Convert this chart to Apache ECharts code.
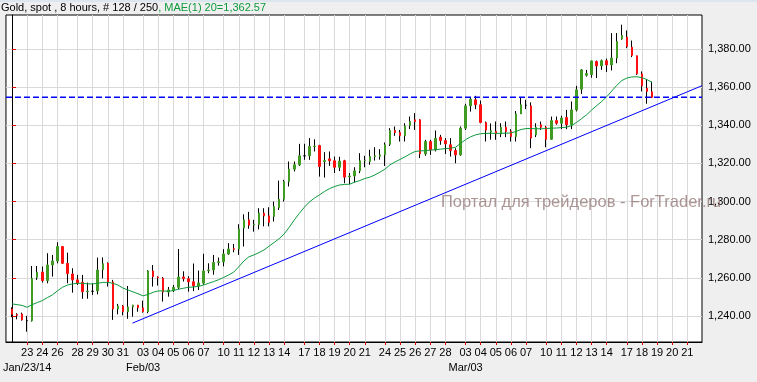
<!DOCTYPE html>
<html><head><meta charset="utf-8">
<script src="https://cdn.jsdelivr.net/npm/echarts@6/dist/echarts.min.js"></script>
<style>html,body{margin:0;padding:0;background:#efefef}#c{width:757px;height:382px}</style>
</head><body><div id="c"></div>
<script>
// 8-hour Gold bars, index 0 = Jan 22 00:00
const opens = [1243.6,1240.8,1241.0,1237.5,1237.5,1260.1,1263.0,1258.5,1266.7,1268.8,
 1276.4,1267.6,1262.0,1258.9,1257.6,1252.7,1252.9,1253.1,1264.3,1267.6,
 1257.8,1243.6,1245.2,1242.2,1244.7,1245.6,1244.2,1242.2,1263.6,1260.4,
 1259.8,1252.5,1253.3,1255.0,1260.4,1259.5,1257.9,1255.8,1257.2,1263.7,
 1264.1,1268.0,1268.4,1272.5,1275.3,1275.1,1286.1,1290.4,1287.7,1287.9,
 1293.9,1292.5,1292.2,1296.8,1301.2,1310.5,1317.0,1319.3,1324.0,1324.0,
 1328.9,1329.4,1321.0,1322.4,1321.4,1318.0,1321.4,1313.0,1313.4,1316.1,
 1321.4,1321.0,1323.6,1323.8,1324.5,1330.1,1337.3,1336.2,1334.6,1339.9,
 1342.9,1342.9,1325.0,1331.5,1327.1,1333.8,1332.0,1329.8,1326.8,1324.5,
 1338.5,1350.2,1353.4,1350.8,1341.5,1336.5,1336.8,1335.5,1339.0,1336.8,
 1334.1,1346.0,1350.5,1350.2,1335.0,1340.3,1339.0,1332.7,1342.5,1341.1,
 1344.1,1340.3,1348.1,1359.0,1366.3,1366.6,1373.5,1371.2,1373.9,1371.7,
 1375.3,1385.4,1386.3,1381.0,1376.5,1367.0,1359.5,1357.6];
const closes = [1240.8,1240.3,1237.9,1237.5,1259.7,1262.9,1258.5,1266.7,1268.8,1276.4,
 1267.6,1262.2,1258.9,1257.1,1252.7,1253.0,1252.9,1264.1,1267.4,1257.8,
 1243.6,1245.2,1242.2,1244.7,1245.6,1244.3,1242.2,1263.6,1260.6,1260.0,
 1252.5,1253.6,1255.0,1260.4,1259.5,1257.9,1255.8,1257.3,1263.6,1264.1,
 1268.0,1268.4,1272.5,1275.1,1274.9,1285.6,1290.4,1287.6,1287.9,1294.0,
 1292.5,1289.0,1297.4,1301.2,1310.5,1317.0,1319.3,1324.0,1324.0,1328.9,
 1329.1,1318.4,1321.5,1321.4,1318.0,1321.2,1312.8,1313.4,1316.1,1321.4,
 1321.6,1323.6,1324.0,1324.5,1329.8,1337.3,1336.2,1334.6,1339.7,1342.0,
 1342.0,1325.0,1331.5,1327.1,1333.2,1332.0,1330.3,1326.8,1324.5,1338.5,
 1350.2,1353.7,1350.8,1341.5,1337.5,1337.2,1335.5,1339.0,1336.8,1334.1,
 1346.0,1350.8,1350.5,1333.3,1339.0,1339.0,1332.7,1342.5,1341.1,1343.8,
 1340.3,1348.1,1358.6,1369.1,1367.2,1373.8,1371.2,1373.9,1371.7,1375.3,
 1384.0,1387.1,1381.4,1376.7,1367.0,1360.7,1357.8,1354.68];
const lows = [1239.3,1238.2,1237.5,1231.7,1237.0,1258.9,1257.5,1257.1,1260.6,1267.6,
 1267.2,1257.1,1252.2,1256.2,1249.0,1249.0,1251.0,1251.3,1259.7,1255.4,
 1237.9,1240.8,1240.3,1238.5,1239.6,1242.2,1241.7,1241.4,1255.4,1255.9,
 1247.5,1250.1,1252.5,1254.0,1258.0,1252.7,1253.0,1253.6,1256.4,1262.4,
 1261.6,1266.4,1266.0,1272.0,1273.4,1272.0,1276.4,1285.7,1284.2,1285.4,
 1287.0,1287.0,1289.5,1295.6,1300.0,1307.9,1315.8,1318.7,1321.9,1321.9,
 1326.3,1313.1,1312.6,1318.7,1315.0,1316.0,1309.6,1309.1,1310.0,1314.9,
 1318.0,1319.3,1321.5,1322.0,1318.7,1329.2,1334.5,1331.5,1331.5,1338.0,
 1337.6,1322.8,1324.0,1324.5,1326.3,1329.8,1325.0,1323.6,1320.1,1324.0,
 1337.6,1347.2,1348.5,1341.1,1331.5,1332.5,1332.4,1333.8,1333.8,1331.5,
 1331.5,1346.0,1348.5,1328.0,1333.8,1337.6,1328.5,1332.4,1340.3,1338.0,
 1338.0,1338.0,1347.3,1356.5,1365.6,1365.0,1364.8,1369.1,1368.0,1368.8,
 1372.6,1384.9,1380.5,1375.8,1366.5,1357.8,1351.3,1354.3];
const highs = [1244.5,1241.4,1241.7,1240.0,1266.2,1266.2,1265.9,1272.9,1272.0,1278.6,
 1276.7,1273.2,1265.0,1261.5,1261.5,1257.5,1257.1,1270.6,1270.7,1268.1,
 1258.9,1246.3,1245.7,1255.7,1245.8,1245.8,1248.0,1264.0,1266.7,1260.8,
 1260.4,1255.2,1256.2,1275.1,1263.4,1260.8,1267.5,1263.8,1272.6,1267.6,
 1272.0,1270.6,1275.0,1278.2,1277.8,1288.1,1293.3,1294.6,1290.4,1296.5,
 1296.5,1297.0,1300.0,1311.0,1311.4,1321.0,1321.0,1330.3,1330.3,1333.3,
 1332.7,1329.8,1325.9,1326.3,1323.6,1323.5,1321.9,1315.0,1318.0,1325.4,
 1324.0,1327.2,1328.5,1327.5,1331.0,1338.5,1339.4,1337.6,1341.1,1344.6,
 1346.4,1343.2,1332.4,1332.4,1337.3,1335.0,1333.3,1333.3,1328.0,1339.4,
 1351.3,1354.8,1355.5,1353.0,1342.0,1341.0,1342.0,1341.1,1342.0,1338.0,
 1347.5,1354.8,1353.4,1352.0,1341.1,1342.0,1339.7,1344.6,1344.6,1345.0,
 1348.1,1352.5,1360.7,1369.5,1369.1,1373.9,1374.0,1374.5,1375.0,1388.4,
 1388.4,1392.8,1389.8,1384.5,1376.5,1368.3,1364.2,1363.0];
// MAE(1) 20 line
const ma20 = [1246.3,1245.9,1245.5,1244.5,1245.9,1247.0,1248.0,1249.6,1251.0,1253.1,
 1255.0,1256.2,1256.8,1257.1,1257.1,1256.8,1256.8,1257.1,1257.6,1257.6,
 1257.1,1256.2,1254.6,1253.6,1252.6,1251.6,1250.5,1251.3,1252.4,1253.1,
 1253.1,1252.9,1253.3,1254.0,1254.5,1255.0,1255.2,1255.5,1256.2,1257.1,
 1258.0,1259.0,1260.2,1261.5,1263.0,1265.8,1268.8,1271.0,1272.0,1273.2,
 1274.6,1276.6,1278.5,1280.5,1283.0,1286.5,1290.3,1293.8,1297.0,1299.8,
 1301.8,1303.5,1305.3,1306.8,1307.9,1308.7,1309.0,1309.1,1310.2,1311.0,
 1312.1,1312.8,1314.0,1315.4,1317.0,1319.3,1320.8,1322.1,1323.5,1325.0,
 1326.3,1326.6,1326.7,1327.0,1327.2,1327.5,1327.8,1328.0,1328.5,1330.5,
 1332.5,1334.0,1335.0,1335.6,1335.8,1335.8,1335.8,1335.8,1335.9,1336.0,
 1336.8,1337.8,1338.3,1338.3,1338.2,1338.2,1338.3,1338.5,1338.6,1338.8,
 1339.0,1339.8,1341.5,1343.5,1345.5,1348.0,1350.3,1352.5,1355.0,1358.0,
 1361.0,1363.5,1364.8,1365.4,1365.5,1365.0,1364.0,1362.57];
// day starts (bar index) and their labels
const tickIdx = [3,6,9,13,16,19,22,26,29,32,35,38,42,45,48,51,54,58,61,64,67,70,74,77,80,83,86,90,93,96,99,102,106,109,112,115,118,122,125,128,131,134];
const tickDay = ['23','24','26','28','29','30','31','03','04','05','06','07','10','11','12','13','14','17','18','19','20','21','24','25','26','27','28','03','04','05','06','07','10','11','12','13','14','17','18','19','20','21'];
const monthIdx = [3, 26, 90];
const monthText = ['Jan/23/14', 'Feb/03', 'Mar/03'];
const yTicks = [1240,1260,1280,1300,1320,1340,1360,1380];
// trend line (two anchor points) and current price
const trendX = [23.9, 136.91];
const trendY = [1236.2, 1360.8];
const lastPrice = 1354.68;
const titleMain = 'Gold, spot , 8 hours, # 128 / 250';
const titleMA = ', MAE(1) 20=1,362.57';
const watermark = 'Портал для трейдеров - ForTrader.ru';

const X_MIN = -1.205, X_MAX = 136.91;
const GREEN = '#3f9b22', RED = '#ff1010', MA_C = '#0d9a3c', BLUE = '#0000ff';
const FONT = 'Liberation Sans, Arial, sans-serif';

function fmtNum(v) {
  const s = v.toFixed(2); const [a, b] = s.split('.');
  return a.replace(/\B(?=(\d{3})+(?!\d))/g, ',') + '.' + b;
}

const wickData = opens.map((o, i) => [i, o, closes[i], lows[i], highs[i]]);
const bodyData = opens.map((o, i) => {
  const c = closes[i];
  const item = { value: [i, o, c, Math.min(o, c), Math.max(o, c)] };
  if (o === c) item.itemStyle = { color: '#000', color0: '#000', borderColor: '#000', borderColor0: '#000' };
  return item;
});
const maData = ma20.map((v, i) => [i, v]);
const trendData = trendX.map((x, i) => [x, trendY[i]]);
const priceData = [[X_MIN, lastPrice], [X_MAX, lastPrice]];

const chart = echarts.init(document.getElementById('c'), null, { renderer: 'canvas' });
chart.setOption({
  backgroundColor: '#efefef',
  animation: false,
  textStyle: { fontFamily: FONT },
  title: {
    left: 1, top: 2, padding: 0,
    text: '{a|' + titleMain + '}{b|' + titleMA + '}',
    textStyle: { fontWeight: 'normal', rich: {
      a: { color: '#000', fontSize: 11, fontWeight: 'normal', fontFamily: FONT },
      b: { color: MA_C, fontSize: 11, fontWeight: 'normal', fontFamily: FONT }
    } }
  },
  graphic: [
    { type: 'rect', left: 0, top: 0, shape: { width: 757, height: 2 }, style: { fill: '#dde6ef' }, silent: true },
    { type: 'text', left: 441, top: 194, z: 100, silent: true,
      style: { text: watermark, font: '16.5px ' + FONT, fill: 'rgba(140,110,110,0.72)' } }
  ],
  grid: { left: 3, right: 55, top: 15, bottom: 40, show: true, backgroundColor: '#ffffff', borderColor: '#000', borderWidth: 1 },
  xAxis: [{
    type: 'value', min: X_MIN, max: X_MAX,
    axisLine: { show: true, onZero: false, lineStyle: { color: '#000', width: 1 } },
    axisTick: { show: true, customValues: tickIdx, length: 3, lineStyle: { color: '#e00000' } },
    axisLabel: {
      customValues: tickIdx, color: '#000', fontSize: 11, fontFamily: FONT, margin: 5,
      formatter: function (v) {
        const k = tickIdx.indexOf(Math.round(v));
        return k < 0 ? '' : tickDay[k];
      }
    },
    splitLine: { show: true, lineStyle: { color: '#d9d9d9', width: 1 } }
  }, {
    type: 'value', min: X_MIN, max: X_MAX, gridIndex: 0, position: 'bottom',
    axisLine: { show: false }, axisTick: { show: false }, splitLine: { show: false },
    axisLabel: {
      customValues: monthIdx, color: '#000', fontSize: 11, fontFamily: FONT, margin: 20,
      formatter: function (v) {
        const m = monthIdx.indexOf(Math.round(v));
        return m < 0 ? '' : monthText[m];
      }
    }
  }],
  yAxis: {
    type: 'value', position: 'right', min: 1226.3, max: 1397.9, scale: true,
    axisLine: { show: true, lineStyle: { color: '#000', width: 1 } },
    axisTick: { show: true, customValues: yTicks, length: 4, lineStyle: { color: '#e00000' } },
    axisLabel: { customValues: yTicks, color: '#000', fontSize: 11, fontFamily: FONT, margin: 6, formatter: fmtNum },
    splitLine: { show: true, lineStyle: { color: '#d9d9d9', width: 1 } }
  },
  series: [
    { type: 'candlestick', name: 'wick', data: wickData, barWidth: 1, z: 3, silent: true,
      itemStyle: { color: '#000', color0: '#000', borderColor: '#000', borderColor0: '#000', borderColorDoji: '#000', borderWidth: 1 } },
    { type: 'candlestick', name: 'body', data: bodyData, barWidth: 2, z: 4, silent: true,
      itemStyle: { color: GREEN, color0: RED, borderColor: GREEN, borderColor0: RED, borderColorDoji: '#000', borderWidth: 1 } },
    { type: 'line', name: 'MA', data: maData, showSymbol: false, z: 5, silent: true,
      lineStyle: { color: MA_C, width: 1 } },
    { type: 'line', name: 'trend', data: trendData, showSymbol: false, z: 6, silent: true,
      lineStyle: { color: BLUE, width: 1 } },
    { type: 'line', name: 'price', data: priceData, showSymbol: false, z: 6, silent: true,
      lineStyle: { color: BLUE, width: 1.5, type: [6, 3] },
      markLine: {
        silent: true, symbol: 'none', animation: false,
        data: [{ yAxis: lastPrice }],
        lineStyle: { opacity: 0, width: 0 },
        label: { position: 'end', distance: 2, formatter: fmtNum(lastPrice), color: BLUE, fontSize: 11, fontFamily: FONT,
          backgroundColor: '#fff', borderColor: '#ff0000', borderWidth: 1, padding: [1, 2, 0, 2] }
      } }
  ]
});
</script>
</body></html>
